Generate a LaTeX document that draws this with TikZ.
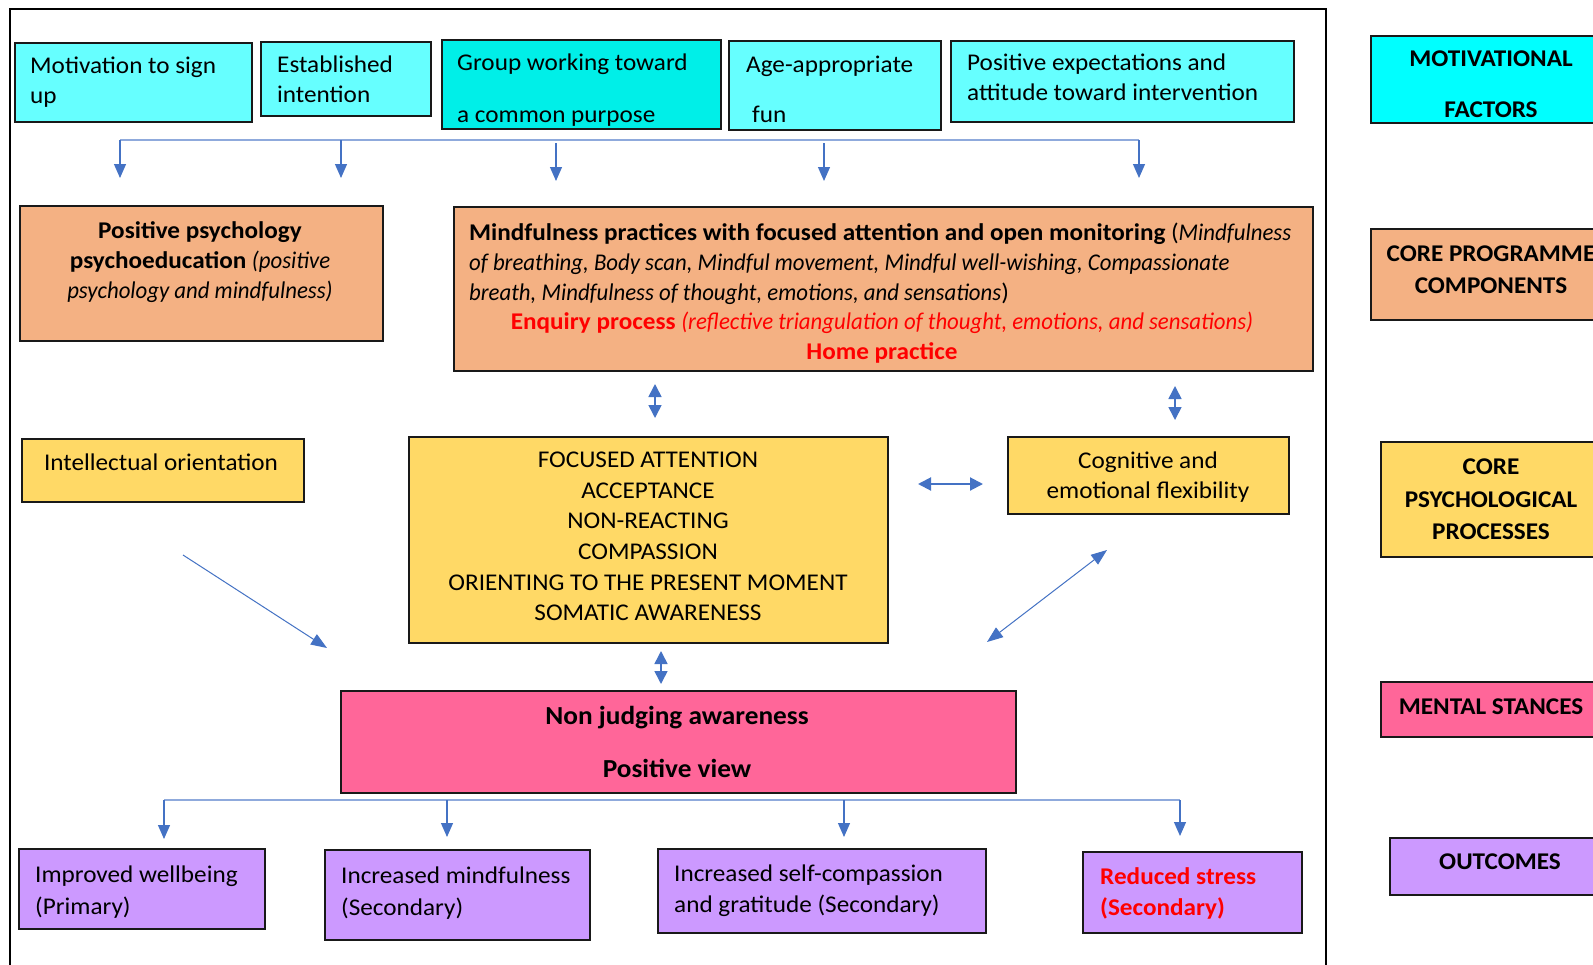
\documentclass[tikz,border=0pt]{standalone}
\usepackage{fontspec}
\setmainfont{Carlito}[UprightFeatures={FakeStretch=1.05},BoldFeatures={FakeStretch=1.05},ItalicFeatures={FakeStretch=0.95},BoldItalicFeatures={FakeStretch=0.97}]
\usetikzlibrary{arrows.meta}
\definecolor{cyanL}{RGB}{102,255,255}
\definecolor{cyanM}{RGB}{0,239,232}
\definecolor{cyanB}{RGB}{0,255,255}
\definecolor{orng}{RGB}{244,177,131}
\definecolor{yell}{RGB}{255,217,102}
\definecolor{pnk}{RGB}{255,102,153}
\definecolor{purp}{RGB}{204,153,255}
\definecolor{arr}{RGB}{68,114,196}
\definecolor{arrL}{RGB}{143,170,220}
\definecolor{redt}{RGB}{255,0,0}
\definecolor{edge}{RGB}{25,25,25}
\tikzset{
  box/.style={draw=edge, line width=2pt, anchor=north west, inner sep=0pt},
  txt/.style={inner sep=0pt, font=\fontsize{24}{30}\selectfont},
  txtw/.style={txt, anchor=north west, align=left},
  txtc/.style={txt, anchor=north, align=center},
  fan/.style={arr, line width=1.2pt, -{Triangle[width=12pt,length=14pt]}},
  bar/.style={arrL, line width=2.2pt},
  dbl/.style={arr, line width=1.6pt, {Triangle[width=13pt,length=13pt]}-{Triangle[width=13pt,length=13pt]}},
  thin/.style={arr, line width=1pt, -{Triangle[width=12pt,length=16pt]}},
  thind/.style={arr, line width=1pt, {Triangle[width=12pt,length=16pt]}-{Triangle[width=12pt,length=16pt]}},
}
\newcommand{\mybox}[6]{\node[box,fill=#6,minimum width={(#4-#2)*1pt},minimum height={(#5-#3)*1pt}] (#1) at (#2,#3) {};}
\begin{document}
\begin{tikzpicture}[x=1pt,y=-1pt]
\clip (0,0) rectangle (1593,964);
\fill[white] (0,0) rectangle (1593,964);
% frame
\draw[line width=2.4pt] (10,970) -- (10,9) -- (1326,9) -- (1326,970);

% ---- motivational factors
\mybox{m1}{14}{42}{251}{121}{cyanL}
\mybox{m2}{260}{41}{430}{115}{cyanL}
\mybox{m3}{441}{39}{720}{128}{cyanM}
\mybox{m4}{728}{40}{940}{129}{cyanL}
\mybox{m5}{950}{40}{1293}{121}{cyanL}
\mybox{lmf}{1370}{35}{1640}{122}{cyanB}
\node[txtw] (tm1) at (30,52) {\strut Motivation to sign\\\strut up};
\node[txtw] (tm2) at (277,51) {\strut Established\\\strut intention};
\node[txtw] (tm3) at (457,49) {\strut Group working toward\\[22pt]\strut a common purpose};
\node[txtw] (tm4) at (746,51) {\strut Age-appropriate\\[20pt]\strut\hspace{6pt}fun};
\node[txtw] (tm5) at (967,49) {\strut Positive expectations and\\\strut attitude toward intervention};
\node[txtc, font=\fontsize{24}{30}\selectfont\bfseries] (tlmf) at (1491,45) {\strut MOTIVATIONAL\\[21pt]\strut FACTORS};

% fan from motivational factors
\coordinate (fL) at (120,140);
\coordinate (fR) at (1139,140);
\draw[bar] (fL) -- (fR);
\coordinate (fs1) at (120,140);  \coordinate (fe1) at (120,178);
\coordinate (fs2) at (341,140);  \coordinate (fe2) at (341,178);
\coordinate (fs3) at (556,143);  \coordinate (fe3) at (556,181);
\coordinate (fs4) at (824,143);  \coordinate (fe4) at (824,181);
\coordinate (fs5) at (1139,140); \coordinate (fe5) at (1139,178);
\foreach \i in {1,...,5} {\draw[fan] (fs\i) -- (fe\i);}

% ---- core programme components
\mybox{pp}{19}{205}{382}{340}{orng}
\mybox{mp}{453}{206}{1312}{370}{orng}
\mybox{lcpc}{1370}{228}{1640}{319}{orng}
\node[txtc] (tpp) at (200,217) {\strut\textbf{Positive psychology}\\\strut\textbf{psychoeducation} \textit{(positive}\\\strut\textit{psychology and mindfulness)}};
\node[txtw] (tmp) at (469,219) {\strut\textbf{Mindfulness practices with focused attention and open monitoring} (\textit{Mindfulness}\\\strut\textit{of breathing, Body scan, Mindful movement, Mindful well-wishing, Compassionate}\\\strut\textit{breath, Mindfulness of thought, emotions, and sensations})};
\node[txtc, text=redt] (tmq) at (882,308) {\strut\textbf{Enquiry process} \textit{(reflective triangulation of thought, emotions, and sensations)}\\\strut\textbf{Home practice}};
\node[txtc, font=\fontsize{24}{32}\selectfont\bfseries] (tlcpc) at (1491,239) {\strut CORE PROGRAMME\\\strut COMPONENTS};

\coordinate (d1a) at (655,384); \coordinate (d1b) at (655,418);
\coordinate (d2a) at (1175,386); \coordinate (d2b) at (1175,420);
\draw[dbl] (d1a) -- (d1b);
\draw[dbl] (d2a) -- (d2b);

% ---- core psychological processes
\mybox{io}{21}{438}{303}{501}{yell}
\mybox{cp}{408}{436}{887}{642}{yell}
\mybox{cef}{1007}{436}{1288}{513}{yell}
\mybox{lcpp}{1380}{441}{1640}{556}{yell}
\node[txtc] (tio) at (161,449) {\strut Intellectual orientation};
\node[txtc, font=\fontsize{24}{30.6}\selectfont] (tcp) at (648,446) {\strut FOCUSED ATTENTION\\\strut ACCEPTANCE\\\strut NON-REACTING\\\strut COMPASSION\\\strut ORIENTING TO THE PRESENT MOMENT\\\strut SOMATIC AWARENESS};
\node[txtc] (tcef) at (1148,447) {\strut Cognitive and\\\strut emotional flexibility};
\node[txtc, font=\fontsize{24}{32.5}\selectfont\bfseries] (tlcpp) at (1491,452) {\strut CORE\\\strut PSYCHOLOGICAL\\\strut PROCESSES};

\coordinate (h1a) at (918,484); \coordinate (h1b) at (983,484);
\draw[dbl, line width=2pt] (h1a) -- (h1b);
\coordinate (g1a) at (183,555); \coordinate (g1b) at (327,648);
\draw[thin] (g1a) -- (g1b);
\coordinate (g2a) at (1107,550); \coordinate (g2b) at (987,642);
\draw[thind] (g2a) -- (g2b);
\coordinate (d3a) at (661,651); \coordinate (d3b) at (661,684);
\draw[dbl] (d3a) -- (d3b);

% ---- mental stances
\mybox{nj}{340}{690}{1015}{792}{pnk}
\mybox{lms}{1380}{681}{1640}{736}{pnk}
\node[txtc, font=\fontsize{26}{32}\selectfont\bfseries] (tnj) at (677,702) {\strut Non judging awareness\\[21pt]\strut Positive view};
\node[txtc, font=\fontsize{24}{30}\selectfont\bfseries] (tlms) at (1491,693) {\strut MENTAL STANCES};

% fan to outcomes
\coordinate (bL) at (164,800);
\coordinate (bR) at (1180,800);
\draw[arrL, line width=1.6pt] (bL) -- (bR);
\coordinate (bs1) at (164,800);  \coordinate (be1) at (164,839);
\coordinate (bs2) at (447,800);  \coordinate (be2) at (447,837);
\coordinate (bs3) at (844,800);  \coordinate (be3) at (844,837);
\coordinate (bs4) at (1180,800); \coordinate (be4) at (1180,836);
\foreach \i in {1,...,4} {\draw[fan] (bs\i) -- (be\i);}

% ---- outcomes
\mybox{o1}{18}{848}{264}{928}{purp}
\mybox{o2}{324}{849}{589}{939}{purp}
\mybox{o3}{657}{848}{985}{932}{purp}
\mybox{o4}{1082}{851}{1301}{932}{purp}
\mybox{lo}{1389}{837}{1640}{894}{purp}
\node[txtw, font=\fontsize{24}{32}\selectfont] (to1) at (35,860) {\strut Improved wellbeing\\\strut (Primary)};
\node[txtw, font=\fontsize{24}{32}\selectfont] (to2) at (341,861) {\strut Increased mindfulness\\\strut (Secondary)};
\node[txtw, font=\fontsize{24}{31}\selectfont] (to3) at (674,860) {\strut Increased self-compassion\\\strut and gratitude (Secondary)};
\node[txtw, font=\fontsize{24}{31}\selectfont\bfseries, text=redt] (to4) at (1100,863) {\strut Reduced stress\\\strut (Secondary)};
\node[txtc, font=\fontsize{24}{30}\selectfont\bfseries] (tlo) at (1500,848) {\strut OUTCOMES};
\end{tikzpicture}
\end{document}
